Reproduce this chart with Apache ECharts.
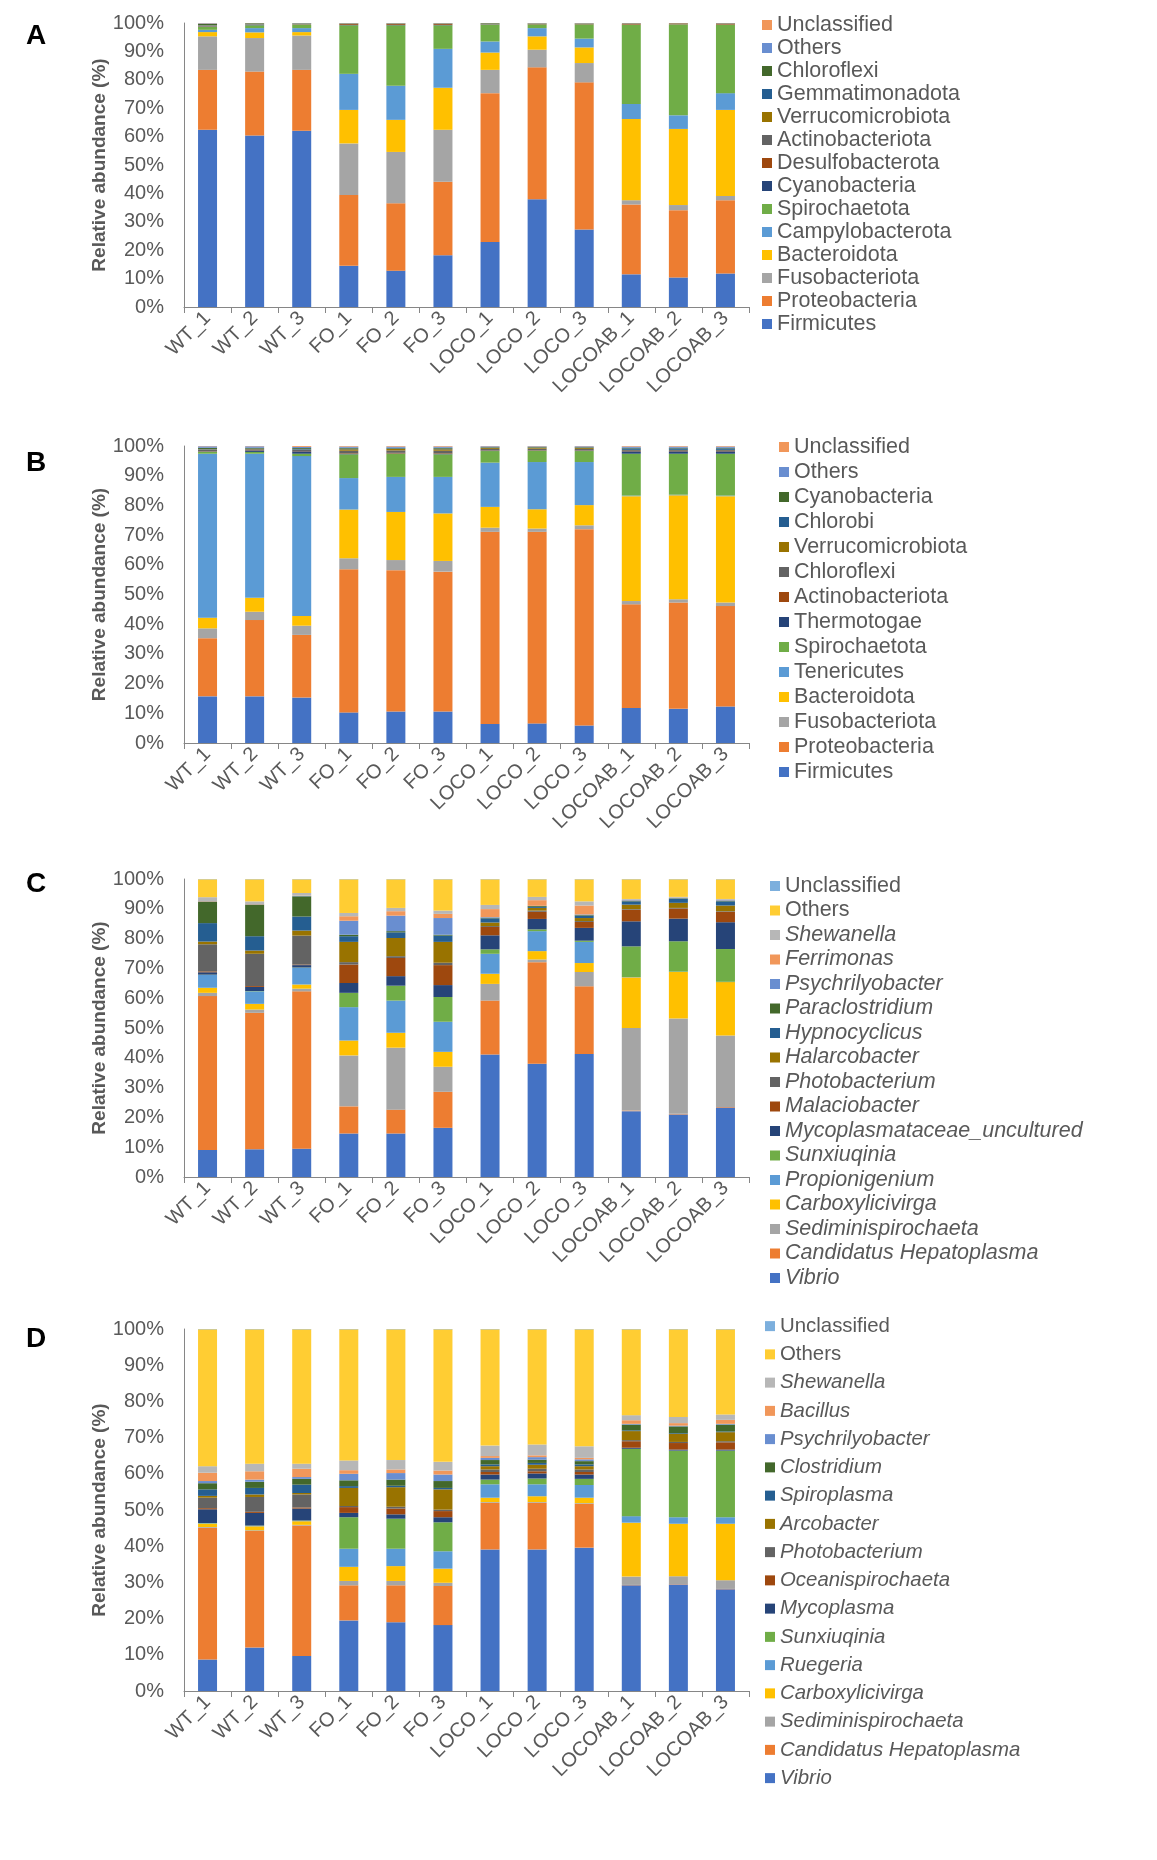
<!DOCTYPE html>
<html>
<head>
<meta charset="utf-8">
<script src="https://cdn.jsdelivr.net/npm/echarts@6/dist/echarts.min.js"></script>
<style>
html,body{margin:0;padding:0;background:#fff;}
#chart{width:1157px;height:1860px;}
</style>
</head>
<body>
<div id="chart"></div>
<script>
// ---------- DATA ----------
const samples = ['WT_1','WT_2','WT_3','FO_1','FO_2','FO_3','LOCO_1','LOCO_2','LOCO_3','LOCOAB_1','LOCOAB_2','LOCOAB_3'];

// Panel A (phylum)
const aTaxa = ['Firmicutes','Proteobacteria','Fusobacteriota','Bacteroidota','Campylobacterota','Spirochaetota','Cyanobacteria','Desulfobacterota','Actinobacteriota','Verrucomicrobiota','Gemmatimonadota','Chloroflexi','Others','Unclassified'];
const aFirmicutes        = [62.4,60.4,62.1,14.5,12.8,18.2,22.9,37.9,27.3,11.5,10.4,11.8];
const aProteobacteria    = [21.1,22.5,21.4,24.9,23.7,25.9,52.4,46.5,51.8,24.6,23.7,25.8];
const aFusobacteriota    = [11.8,11.8,12.1,18.2,18.1,18.3,8.2,6.2,6.8,1.5,1.8,1.5];
const aBacteroidota      = [1.5,2.0,1.2,11.8,11.3,14.8,6.1,4.7,5.5,28.6,26.8,30.3];
const aCampylobacterota  = [0.8,1.5,1.4,12.7,12.0,13.7,3.9,2.9,3.1,5.3,4.8,5.9];
const aSpirochaetota     = [1.0,1.0,1.2,17.1,21.3,8.3,5.9,1.3,5.0,27.9,32.0,24.1];
const aCyanobacteria     = [0.1,0.1,0.05,0.1,0.1,0.1,0.05,0.05,0.05,0.05,0.05,0.05];
const aDesulfobacterota  = [0.1,0.1,0.05,0.3,0.3,0.3,0.05,0.1,0.1,0.3,0.25,0.3];
const aActinobacteriota  = [0.2,0.1,0.1,0.1,0.1,0.1,0.05,0.05,0.05,0.05,0.05,0.05];
const aVerrucomicrobiota = [0.1,0.05,0.05,0.05,0.05,0.05,0.05,0.05,0.05,0.05,0.05,0.05];
const aGemmatimonadota   = [0.1,0.1,0.1,0.05,0.05,0.05,0.05,0.05,0.05,0.05,0.03,0.05];
const aChloroflexi       = [0.5,0.25,0.15,0.1,0.1,0.1,0.25,0.1,0.1,0.05,0.03,0.05];
const aOthers            = [0.2,0.05,0.05,0.05,0.05,0.05,0.05,0.05,0.05,0.03,0.02,0.03];
const aUnclassified      = [0.1,0.05,0.05,0.05,0.05,0.05,0.05,0.05,0.05,0.02,0.02,0.02];

// Panel B (phylum)
const bTaxa = ['Firmicutes','Proteobacteria','Fusobacteriota','Bacteroidota','Tenericutes','Spirochaetota','Thermotogae','Actinobacteriota','Chloroflexi','Verrucomicrobiota','Chlorobi','Cyanobacteria','Others','Unclassified'];
const bFirmicutes        = [15.7,15.7,15.3,10.3,10.6,10.6,6.4,6.6,5.9,11.8,11.5,12.3];
const bProteobacteria    = [19.6,25.7,21.1,48.2,47.6,47.1,64.7,64.5,66.1,34.9,35.8,33.8];
const bFusobacteriota    = [3.3,2.8,3.1,3.7,3.4,3.6,1.4,1.1,1.3,1.1,1.1,1.2];
const bBacteroidota      = [3.6,4.7,3.3,16.4,16.2,16.0,7.0,6.5,6.8,35.3,35.0,35.8];
const bTenericutes       = [55.2,48.5,53.8,10.6,11.8,12.3,14.9,15.9,14.5,0.2,0.2,0.2];
const bSpirochaetota     = [0.6,0.6,0.8,8.0,7.8,7.6,3.9,3.8,3.7,14.1,13.8,14.1];
const bThermotogae       = [0.1,0.5,0.8,0.1,0.1,0.1,0.1,0.1,0.1,0.8,0.8,0.8];
const bActinobacteriota  = [0.1,0.1,0.1,0.2,0.2,0.2,0.1,0.1,0.1,0.1,0.1,0.1];
const bChloroflexi       = [0.6,0.3,0.4,0.9,0.8,0.9,0.5,0.5,0.5,0.3,0.3,0.3];
const bVerrucomicrobiota = [0.1,0.1,0.1,0.5,0.5,0.5,0.3,0.3,0.3,0.1,0.1,0.1];
const bChlorobi          = [0.1,0.1,0.2,0.2,0.2,0.2,0.1,0.1,0.1,0.5,0.5,0.5];
const bCyanobacteria     = [0.4,0.3,0.3,0.3,0.2,0.3,0.2,0.2,0.2,0.2,0.2,0.2];
const bOthers            = [0.5,0.5,0.4,0.4,0.4,0.4,0.3,0.2,0.3,0.4,0.4,0.4];
const bUnclassified      = [0.1,0.1,0.3,0.2,0.2,0.2,0.1,0.1,0.1,0.2,0.2,0.2];

// Panel C (genus)
const cTaxa = ['Vibrio','Candidatus Hepatoplasma','Sediminispirochaeta','Carboxylicivirga','Propionigenium','Sunxiuqinia','Mycoplasmataceae_uncultured','Malaciobacter','Photobacterium','Halarcobacter','Hypnocyclicus','Paraclostridium','Psychrilyobacter','Ferrimonas','Shewanella','Others','Unclassified'];
const cVibrio           = [9.1,9.3,9.5,14.6,14.6,16.5,41.1,38.0,41.3,22.1,21.0,23.3];
const cCandidatus       = [51.6,45.8,52.8,9.1,8.0,12.1,18.1,34.1,22.7,0.2,0.2,0.2];
const cSediminispiro    = [1.1,1.1,0.9,17.1,20.8,8.4,5.6,0.9,4.8,27.7,32.0,24.0];
const cCarboxylicivirga = [1.7,1.9,1.4,5.0,5.0,5.0,3.4,2.8,3.0,17.0,15.6,17.9];
const cPropionigenium   = [4.3,4.2,5.6,11.2,10.8,10.1,6.7,6.7,7.1,0.1,0.1,0.1];
const cSunxiuqinia      = [0.1,0.1,0.1,4.8,5.0,8.3,1.5,0.6,0.4,10.3,10.2,11.0];
const cMycoplasmataceae = [0.8,1.4,0.8,3.3,3.2,4.0,4.7,3.5,4.3,8.4,7.6,9.0];
const cMalaciobacter    = [0.3,0.3,0.2,6.2,6.1,6.7,2.8,2.4,2.0,3.9,3.4,3.5];
const cPhotobacterium   = [9.1,10.8,9.7,0.8,0.6,0.8,0.3,0.4,0.3,0.2,0.2,0.2];
const cHalarcobacter    = [0.9,1.1,1.7,6.8,6.1,7.0,1.2,0.9,1.0,1.5,1.7,1.9];
const cHypnocyclicus    = [6.2,4.8,4.7,1.9,1.9,2.1,1.4,0.3,0.8,1.1,1.3,1.4];
const cParaclostridium  = [7.2,10.6,6.8,0.5,0.4,0.3,0.2,0.3,0.2,0.2,0.2,0.2];
const cPsychrilyobacter = [0.1,0.1,0.1,4.7,5.2,5.6,0.2,0.1,0.2,0.2,0.1,0.2];
const cFerrimonas       = [0.1,0.1,0.1,1.5,1.5,1.4,2.7,1.9,3.0,0.1,0.1,0.1];
const cShewanella       = [1.3,0.9,0.9,1.1,1.1,1.1,1.4,1.1,1.4,0.3,0.3,0.3];
const cOthers           = [6.0,7.4,4.6,11.3,9.6,10.5,8.6,5.9,7.4,6.6,5.9,6.6];
const cUnclassified     = [0.1,0.1,0.1,0.1,0.1,0.1,0.1,0.1,0.1,0.1,0.1,0.1];

// Panel D (genus)
const dTaxa = ['Vibrio','Candidatus Hepatoplasma','Sediminispirochaeta','Carboxylicivirga','Ruegeria','Sunxiuqinia','Mycoplasma','Oceanispirochaeta','Photobacterium','Arcobacter','Spiroplasma','Clostridium','Psychrilyobacter','Bacillus','Shewanella','Others','Unclassified'];
const dVibrio           = [8.7,12.0,9.7,19.5,19.0,18.2,39.1,39.1,39.6,29.2,29.4,28.1];
const dCandidatus       = [36.4,32.2,36.0,9.7,10.2,10.8,12.9,12.9,12.1,0.1,0.1,0.1];
const dSediminispiro    = [0.2,0.2,0.2,1.2,1.2,0.9,0.2,0.2,0.2,2.3,2.2,2.4];
const dCarboxylicivirga = [0.9,1.1,1.0,3.9,4.1,3.9,1.2,1.6,1.5,14.9,14.5,15.6];
const dRuegeria         = [0.1,0.1,0.1,5.0,4.8,4.8,3.7,3.3,3.5,1.8,1.8,1.8];
const dSunxiuqinia      = [0.1,0.1,0.1,8.7,8.3,8.0,1.3,1.6,1.7,18.6,18.4,18.4];
const dMycoplasma       = [3.8,3.5,3.3,1.2,1.2,1.4,1.4,1.4,1.2,0.3,0.3,0.3];
const dOceanispirochaeta= [0.3,0.3,0.3,1.6,1.6,1.7,0.7,0.6,0.7,1.8,1.8,2.0];
const dPhotobacterium   = [2.9,4.1,3.6,0.3,0.5,0.4,0.7,0.7,0.7,0.3,0.3,0.3];
const dArcobacter       = [0.5,0.7,0.4,5.0,5.4,5.6,0.9,1.1,0.9,2.5,2.2,2.5];
const dSpiroplasma      = [1.8,1.8,2.3,0.5,0.4,0.4,0.5,0.5,0.5,0.2,0.2,0.2];
const dClostridium      = [1.7,1.7,1.6,1.6,1.7,1.9,1.2,0.9,0.9,1.6,1.9,1.9];
const dPsychrilyobacter = [0.6,0.6,0.5,1.8,1.8,1.8,0.6,0.7,0.5,0.2,0.2,0.2];
const dBacillus         = [2.3,2.3,2.3,1.0,1.0,1.1,0.5,0.5,0.4,1.0,0.7,1.1];
const dShewanella       = [1.8,2.1,1.4,2.7,2.6,2.4,2.9,3.0,3.2,1.4,1.7,1.5];
const dOthers           = [37.8,37.1,37.1,36.2,36.1,36.6,32.1,31.8,32.3,23.7,24.2,23.5];
const dUnclassified     = [0.1,0.1,0.1,0.1,0.1,0.1,0.1,0.1,0.1,0.1,0.1,0.1];

const yTickLabels = ['0%','10%','20%','30%','40%','50%','60%','70%','80%','90%','100%'];

// ---------- BUILD ----------
const aValues = [aFirmicutes,aProteobacteria,aFusobacteriota,aBacteroidota,aCampylobacterota,aSpirochaetota,aCyanobacteria,aDesulfobacterota,aActinobacteriota,aVerrucomicrobiota,aGemmatimonadota,aChloroflexi,aOthers,aUnclassified];
const bValues = [bFirmicutes,bProteobacteria,bFusobacteriota,bBacteroidota,bTenericutes,bSpirochaetota,bThermotogae,bActinobacteriota,bChloroflexi,bVerrucomicrobiota,bChlorobi,bCyanobacteria,bOthers,bUnclassified];
const cValues = [cVibrio,cCandidatus,cSediminispiro,cCarboxylicivirga,cPropionigenium,cSunxiuqinia,cMycoplasmataceae,cMalaciobacter,cPhotobacterium,cHalarcobacter,cHypnocyclicus,cParaclostridium,cPsychrilyobacter,cFerrimonas,cShewanella,cOthers,cUnclassified];
const dValues = [dVibrio,dCandidatus,dSediminispiro,dCarboxylicivirga,dRuegeria,dSunxiuqinia,dMycoplasma,dOceanispirochaeta,dPhotobacterium,dArcobacter,dSpiroplasma,dClostridium,dPsychrilyobacter,dBacillus,dShewanella,dOthers,dUnclassified];

const palette = ['#4472C4','#ED7D31','#A5A5A5','#FFC000','#5B9BD5','#70AD47','#264478','#9E480E','#636363','#997300','#255E91','#43682B','#698ED0','#F1975A','#B7B7B7','#FFCD33','#7CAFDD'];

const FONT = '"Liberation Sans", Arial, sans-serif';
const TXT = '#595959';
const AXC = '#868686';

const panels = [
  {key:'A', taxa:aTaxa, values:aValues, italic:false, top:23,  h:284, lgLeft:757, lgTop:8.5,    lh:23,    fs:21.5, letterY:36},
  {key:'B', taxa:bTaxa, values:bValues, italic:false, top:446, h:297, lgLeft:774, lgTop:429.5,  lh:25,    fs:21.5, letterY:463},
  {key:'C', taxa:cTaxa, values:cValues, italic:true,  top:879, h:298, lgLeft:765, lgTop:868.75, lh:24.5,  fs:21.5, letterY:884},
  {key:'D', taxa:dTaxa, values:dValues, italic:true,  top:1329,h:362, lgLeft:760, lgTop:1307,   lh:28.25, fs:20.4, letterY:1339}
];

const grid = [], xAxis = [], yAxis = [], series = [], legend = [], graphic = [];
panels.forEach((p, i) => {
  grid.push({left:184, width:565, top:p.top, height:p.h});
  xAxis.push({
    type:'category', gridIndex:i, data:samples,
    axisLine:{show:true, lineStyle:{color:AXC, width:1}},
    axisTick:{show:true, length:6, lineStyle:{color:AXC}},
    axisLabel:{rotate:45, fontSize:20, color:TXT, fontFamily:FONT, margin:8}
  });
  yAxis.push({
    type:'value', gridIndex:i, min:0, max:100, interval:10,
    axisLine:{show:true, lineStyle:{color:AXC, width:1}},
    axisTick:{show:false},
    splitLine:{show:false},
    axisLabel:{fontSize:20, color:TXT, fontFamily:FONT, margin:20,
      formatter: v => yTickLabels[Math.round(v/10)]},
    name:'Relative abundance (%)', nameLocation:'middle', nameGap:74,
    nameTextStyle:{fontSize:19, fontWeight:'bold', color:TXT, fontFamily:FONT}
  });
  const names = [];
  p.taxa.forEach((t, j) => {
    const nm = p.key + '::' + t;
    names.push(nm);
    series.push({
      type:'bar', name:nm, stack:p.key, xAxisIndex:i, yAxisIndex:i,
      data:p.values[j], barWidth:19,
      itemStyle:{color:palette[j]},
      emphasis:{disabled:true}, silent:true
    });
  });
  const plain = {Others:1, Unclassified:1};
  legend.push({
    orient:'vertical', left:p.lgLeft, top:p.lgTop, itemWidth:10, itemHeight:10, itemGap:0,
    icon:'rect', selectedMode:false,
    data: names.slice().reverse(),
    formatter: n => {
      const t = n.split('::')[1];
      return (p.italic && !plain[t]) ? '{i|' + t + '}' : '{n|' + t + '}';
    },
    textStyle:{fontSize:p.fs, color:TXT, fontFamily:FONT, lineHeight:p.lh,
      rich:{
        i:{fontSize:p.fs, fontStyle:'italic', color:TXT, fontFamily:FONT, lineHeight:p.lh},
        n:{fontSize:p.fs, color:TXT, fontFamily:FONT, lineHeight:p.lh}
      }}
  });
  graphic.push({type:'text', left:26, top:p.letterY - 14,
    style:{text:p.key, font:'bold 28px ' + FONT, fill:'#000'}});
});

const chart = echarts.init(document.getElementById('chart'), null, {renderer:'canvas'});
chart.setOption({
  animation:false,
  backgroundColor:'#ffffff',
  grid, xAxis, yAxis, series, legend, graphic
});
</script>
</body>
</html>
